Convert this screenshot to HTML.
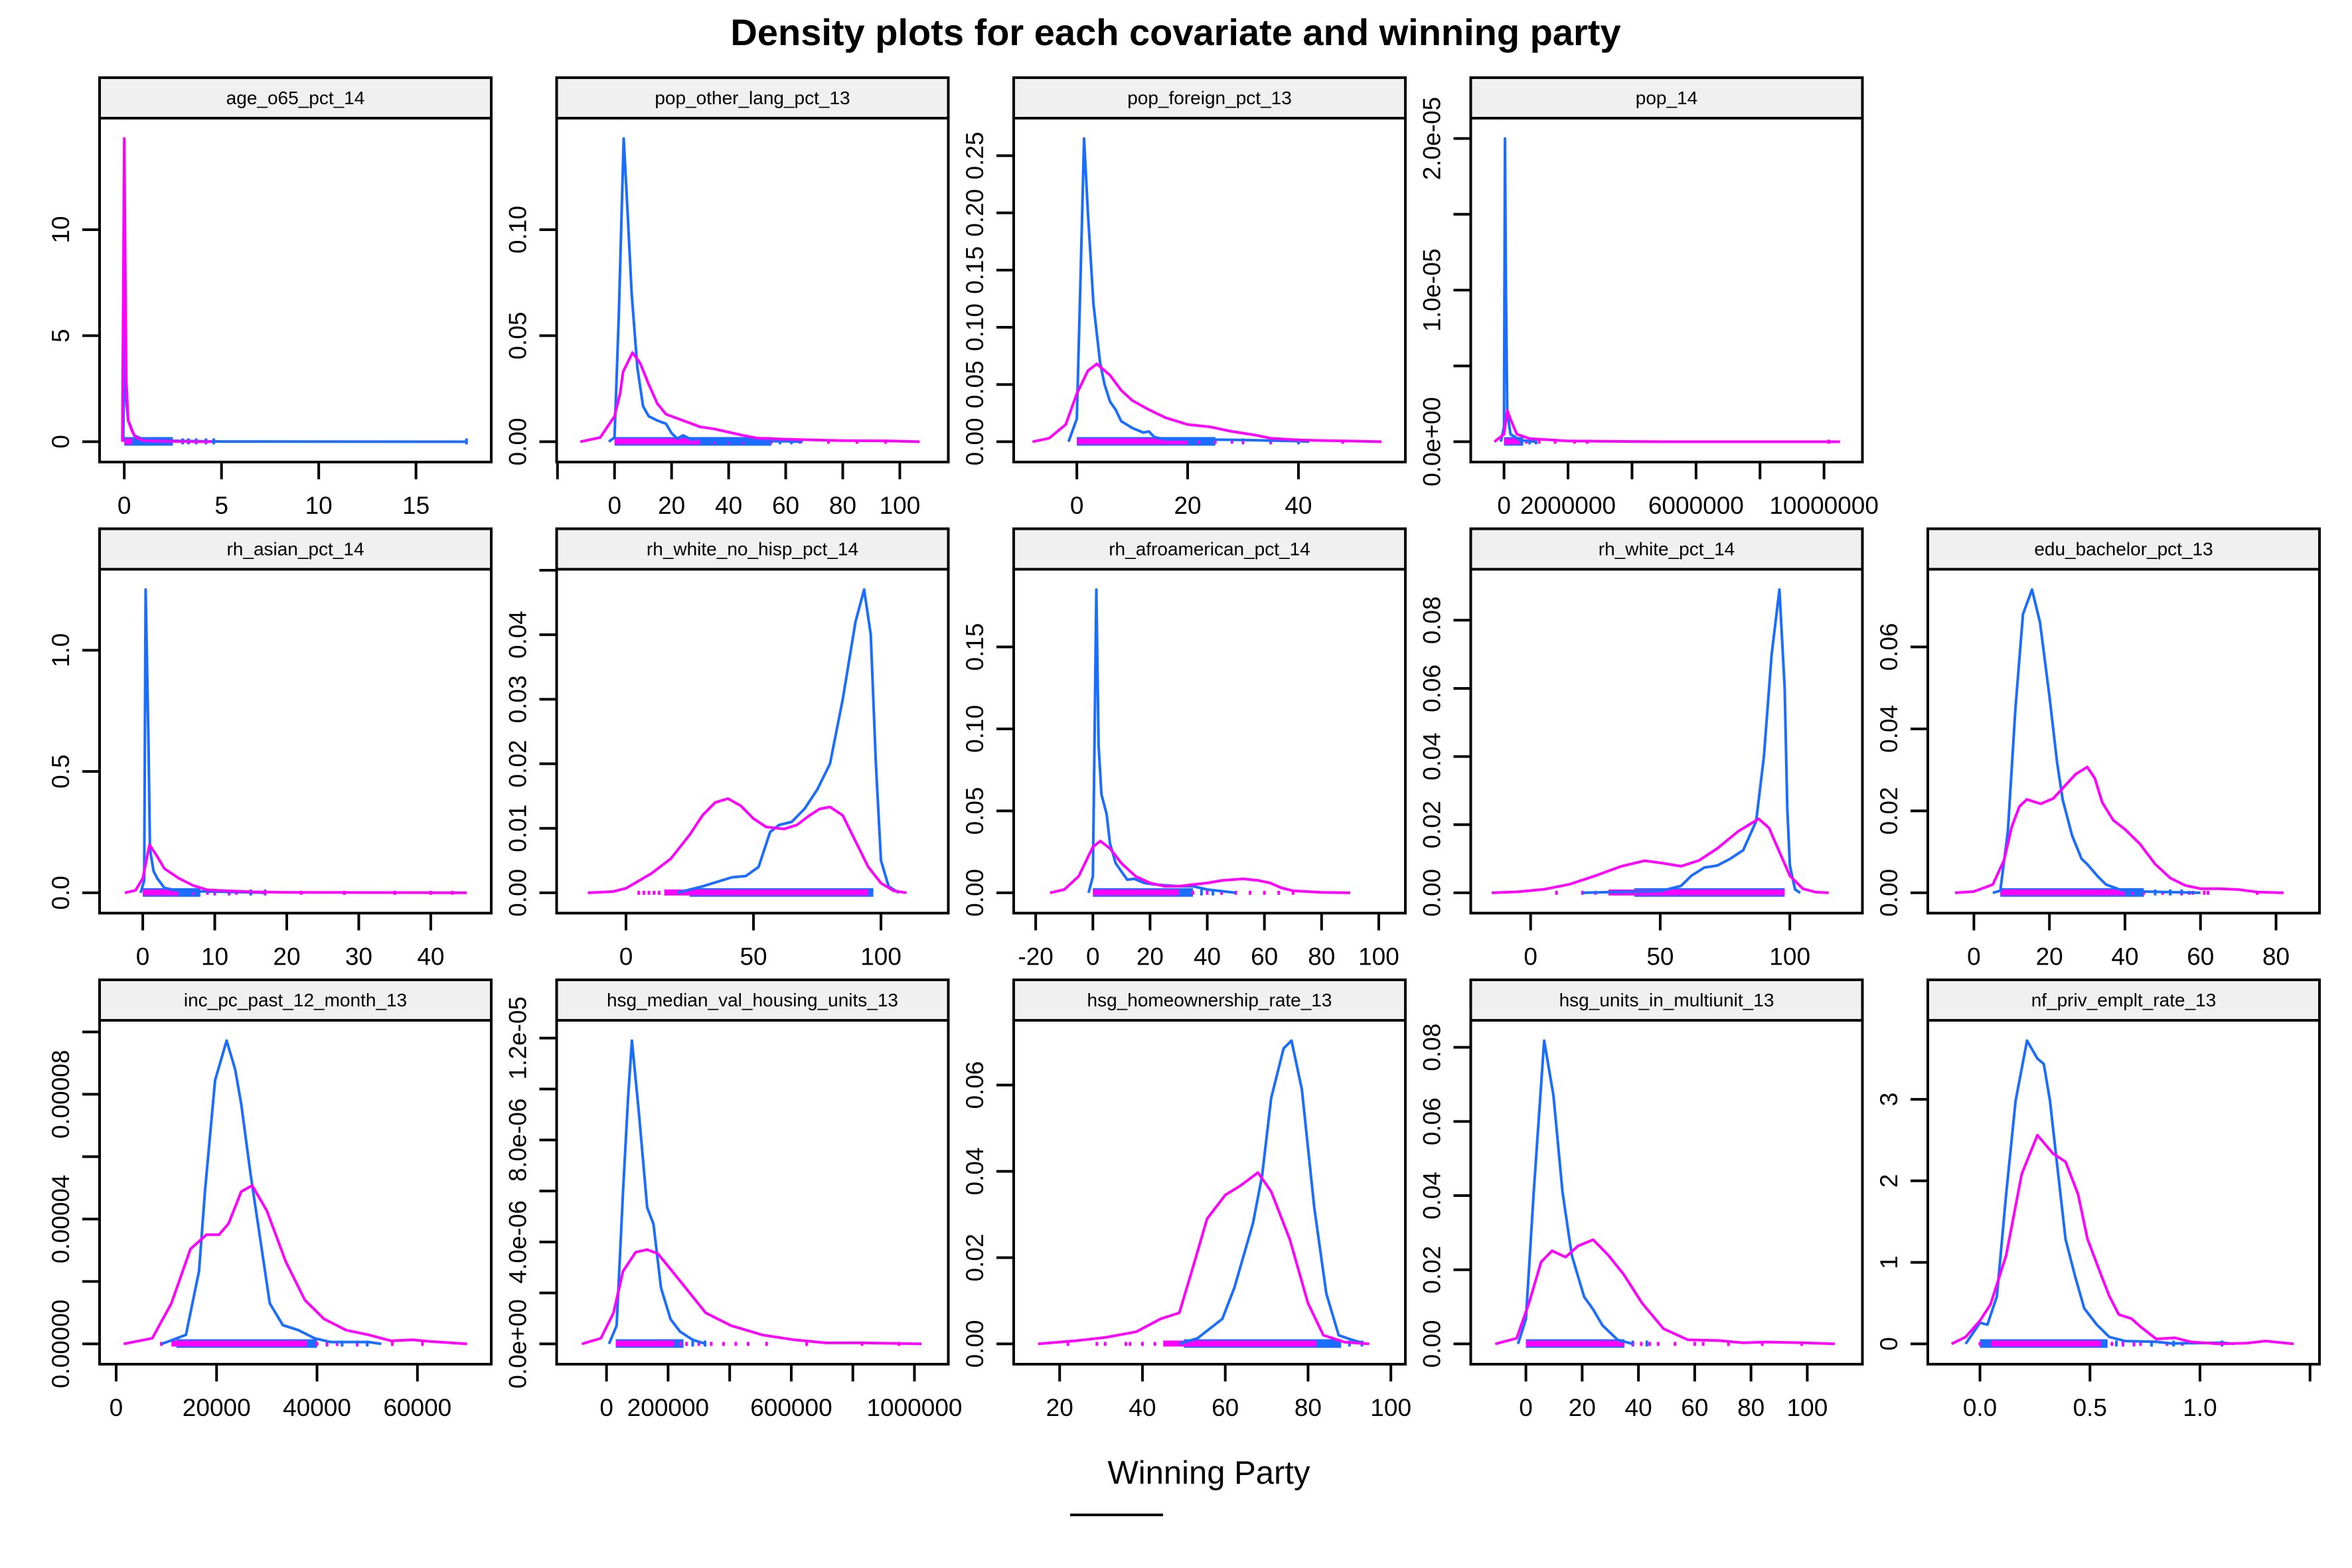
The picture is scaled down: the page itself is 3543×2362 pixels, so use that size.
<!DOCTYPE html>
<html><head><meta charset="utf-8"><style>
html,body{margin:0;padding:0;background:#fff;}
svg{display:block;font-family:"Liberation Sans",Arial,sans-serif;}
</style></head><body>
<svg id="chart" width="3543" height="2362" viewBox="0 0 3543 2362" xmlns="http://www.w3.org/2000/svg">
<rect width="3543" height="2362" fill="#fff"/>
<text x="1771" y="68" text-anchor="middle" font-size="56" font-weight="bold">Density plots for each covariate and winning party</text>
<text x="1821" y="2235" text-anchor="middle" font-size="49">Winning Party</text>
<line x1="1612" y1="2282" x2="1752" y2="2282" stroke="#000" stroke-width="4"/>
<g id="panels"></g>
</svg>
<script>
const panelNames = ["age_o65_pct_14","pop_other_lang_pct_13","pop_foreign_pct_13","pop_14","rh_asian_pct_14","rh_white_no_hisp_pct_14","rh_afroamerican_pct_14","rh_white_pct_14","edu_bachelor_pct_13","inc_pc_past_12_month_13","hsg_median_val_housing_units_13","hsg_homeownership_rate_13","hsg_units_in_multiunit_13","nf_priv_emplt_rate_13"];

const ageBlue = [[-0.05,0],[0.03,7],[0.1,2],[0.2,1],[0.3,0.8],[0.5,0.3],[1,0.1],[2,0.05],[5,0.01],[17.6,0]];
const ageMag = [[-0.1,0],[0,14.3],[0.1,3],[0.2,1],[0.4,0.5],[0.6,0.2],[1,0.05],[2,0.02],[4,0],[4.5,0]];
const langBlue = [[-2,0],[0,0.002],[1.5,0.06],[3.2,0.143],[4.5,0.11],[6,0.07],[8,0.035],[10,0.0167],[12,0.012],[15,0.01],[18,0.0085],[20,0.004],[22,0.0015],[24,0.003],[27,0.001],[30,0.0015],[35,0.0005],[45,0.0003],[60,0.0002],[66,0]];
const langMag = [[-12,0],[-5,0.002],[0,0.012],[2,0.023],[3,0.033],[6.3,0.042],[9,0.037],[12,0.027],[15,0.018],[18,0.013],[22,0.011],[26,0.009],[30,0.007],[35,0.006],[40,0.0045],[45,0.003],[50,0.0017],[60,0.0012],[70,0.0008],[80,0.0005],[95,0.0004],[107,0]];
const forBlue = [[-1.5,0],[0,0.02],[0.7,0.15],[1.3,0.265],[2,0.2],[3,0.12],[4.2,0.069],[5,0.05],[6,0.035],[7,0.028],[8,0.018],[10,0.012],[12,0.008],[13,0.009],[14,0.004],[16,0.002],[20,0.002],[30,0.0015],[40,0.0005],[42,0]];
const forMag = [[-8,0],[-5,0.003],[-2,0.015],[0,0.042],[2,0.062],[3.6,0.068],[6,0.058],[8,0.045],[10,0.036],[13,0.028],[16,0.021],[20,0.015],[24,0.013],[28,0.009],[32,0.006],[35,0.003],[40,0.0015],[45,0.001],[50,0.0005],[55,0]];
const popBlue = [[-100000,0],[0,1e-6],[30000,2e-5],[60000,1e-5],[100000,2e-6],[200000,5e-7],[500000,1e-7],[1000000,0]];
const popMag = [[-300000,0],[0,5e-7],[100000,2.06e-6],[200000,1.5e-6],[400000,5e-7],[800000,2e-7],[2000000,5e-8],[5000000,0],[10500000,0]];
const asianBlue = [[-0.3,0],[0.2,0.05],[0.4,1.25],[0.8,0.6],[1,0.18],[1.5,0.09],[2,0.06],[3,0.02],[5,0.008],[10,0.005],[15,0.002],[17,0]];
const asianMag = [[-2.5,0],[-1,0.01],[0,0.06],[0.93,0.198],[2,0.15],[3,0.1],[5,0.06],[7,0.03],[9,0.012],[12,0.008],[15,0.004],[20,0.002],[30,0.001],[40,0.0005],[45,0]];
const wnhBlue = [[20,0],[30,0.001],[41.5,0.0024],[47,0.0026],[52,0.004],[56.5,0.0094],[60,0.0105],[65,0.011],[70,0.013],[75,0.016],[80,0.02],[85,0.03],[90,0.042],[93.4,0.047],[96,0.04],[98,0.02],[100,0.005],[103,0.001],[107,0]];
const wnhMag = [[-15,0],[-5,0.0002],[0,0.0007],[10,0.003],[17.6,0.0053],[25,0.009],[30,0.012],[35,0.014],[40,0.0146],[45,0.0135],[50,0.0115],[55,0.0102],[62,0.0099],[67,0.0105],[72,0.012],[76,0.013],[80,0.0133],[85,0.012],[90,0.008],[95,0.004],[100,0.0015],[105,0.0003],[110,0]];
const afroBlue = [[-1.5,0],[0,0.01],[0.5,0.08],[1.2,0.185],[2,0.09],[3,0.06],[4.8,0.048],[6,0.03],[8,0.018],[12,0.008],[14.5,0.0085],[18,0.006],[22,0.005],[30,0.004],[35,0.004],[40,0.002],[45,0.001],[50,0]];
const afroMag = [[-15,0],[-10,0.002],[-5,0.01],[0,0.028],[2.6,0.0316],[6,0.027],[10,0.018],[15,0.01],[20,0.006],[25,0.004],[30,0.004],[35,0.005],[40,0.006],[45,0.0075],[52.6,0.0085],[58,0.0075],[62,0.006],[66,0.003],[70,0.0012],[80,0.0003],[90,0]];
const whiteBlue = [[20,0],[30,0.0002],[45,0.0004],[50,0.0005],[58,0.002],[62,0.005],[67,0.0074],[72,0.008],[77,0.01],[82,0.0125],[87,0.021],[90,0.04],[93,0.07],[96,0.089],[98,0.06],[99,0.025],[100,0.008],[102,0.001],[104,0]];
const whiteMag = [[-15,0],[-5,0.0003],[5,0.001],[15,0.0025],[25,0.005],[35,0.0078],[44,0.0094],[50,0.0088],[58,0.0078],[65,0.0095],[72,0.013],[80,0.018],[88,0.0217],[92,0.019],[96,0.012],[100,0.005],[105,0.0012],[110,0.0002],[115,0]];
const eduBlue = [[5,0],[7,0.0005],[9,0.015],[11,0.045],[13,0.068],[15.4,0.074],[17.5,0.066],[20,0.048],[22,0.032],[23.5,0.0228],[26,0.014],[28.5,0.0083],[30,0.007],[32.8,0.004],[35,0.002],[38.9,0.0007],[45,0.0003],[55,0.0001],[60,0]];
const eduMag = [[-5,0],[0,0.0003],[5,0.002],[8,0.008],[10,0.016],[12,0.021],[14,0.0228],[17.7,0.0217],[21,0.023],[24,0.026],[27,0.029],[30,0.0307],[32,0.028],[34,0.022],[36.9,0.0177],[40,0.0155],[44,0.0119],[48,0.007],[52,0.0036],[56,0.0018],[60,0.001],[65,0.001],[70,0.0008],[75,0.0002],[82,0]];
const incBlue = [[9100,0],[13900,2.9e-6],[16500,2.33e-5],[17700,4.9e-5],[19700,8.45e-5],[22000,9.72e-5],[23700,8.8e-5],[24900,7.7e-5],[26800,5.4e-5],[28700,3.35e-5],[30600,1.3e-5],[33200,6e-6],[36300,4.4e-6],[39500,1.8e-6],[42700,6e-7],[50300,6e-7],[52800,0]];
const incMag = [[1500,0],[7200,1.8e-6],[11000,1.3e-5],[14800,3.04e-5],[18000,3.5e-5],[20500,3.5e-5],[22400,3.86e-5],[24900,4.88e-5],[27100,5.08e-5],[30000,4.27e-5],[33800,2.63e-5],[37600,1.4e-5],[41400,8e-6],[45800,4.4e-6],[50300,2.9e-6],[54700,1e-6],[59100,1.3e-6],[62300,8e-7],[69900,0]];
const medBlue = [[8000,0],[33000,7.2e-7],[53600,5.97e-6],[70100,9.7e-6],[82500,1.19e-5],[105000,9.1e-6],[132000,5.35e-6],[152600,4.7e-6],[177000,2.2e-6],[208000,9.7e-7],[239000,4.8e-7],[280000,1.6e-7],[322000,0]];
const medMag = [[-80000,0],[-18500,2.2e-7],[22700,1.22e-6],[53600,2.85e-6],[94800,3.6e-6],[132000,3.7e-6],[167000,3.54e-6],[239000,2.47e-6],[322000,1.22e-6],[404000,7.2e-7],[507000,3.5e-7],[610000,1.6e-7],[713000,4e-8],[837000,4e-8],[1023000,0]];
const homeBlue = [[48.9,0],[53.3,0.0013],[59.3,0.0058],[62.2,0.013],[66.7,0.028],[68.9,0.039],[71.1,0.057],[74.1,0.0685],[76,0.0703],[78.5,0.059],[81.5,0.0316],[84.4,0.0117],[87.4,0.002],[90.4,0.001],[94,0]];
const homeMag = [[14.8,0],[23.7,0.0007],[31.1,0.0015],[38.5,0.0028],[44.4,0.0058],[48.9,0.0072],[51.9,0.0168],[55.6,0.029],[60,0.0345],[63.7,0.0367],[67.9,0.0397],[71.1,0.0353],[75.6,0.0242],[80,0.0094],[83.7,0.002],[88.9,0.0004],[94.8,0]];
const multiBlue = [[-2.8,0],[0,0.0067],[2.8,0.041],[6.5,0.0818],[9.8,0.067],[13,0.041],[16.3,0.0239],[20.7,0.0127],[23.9,0.0093],[27.2,0.005],[32.6,0.0011],[38,0]];
const multiMag = [[-10.9,0],[-3.3,0.0015],[1.1,0.011],[5.4,0.0221],[9.3,0.0251],[14.1,0.0234],[18.5,0.0264],[23.9,0.0281],[29.3,0.0239],[34.8,0.0187],[41.3,0.011],[48.9,0.0041],[57.6,0.0011],[68.5,0.0009],[77.2,0.0003],[84.8,0.0005],[98.9,0.0003],[109.8,0]];
const nfBlue = [[-0.065,0],[0,0.26],[0.034,0.235],[0.077,0.585],[0.119,1.835],[0.162,2.985],[0.214,3.72],[0.261,3.5],[0.29,3.435],[0.318,2.985],[0.347,2.285],[0.389,1.285],[0.432,0.835],[0.474,0.435],[0.531,0.235],[0.588,0.085],[0.659,0.035],[0.8,0.025],[0.872,0.005],[1.1,0.015],[1.156,0]];
const nfMag = [[-0.129,0],[-0.065,0.085],[0,0.285],[0.048,0.485],[0.119,1.085],[0.19,2.085],[0.261,2.56],[0.332,2.335],[0.389,2.235],[0.446,1.835],[0.489,1.285],[0.545,0.885],[0.588,0.585],[0.631,0.36],[0.688,0.31],[0.73,0.21],[0.801,0.06],[0.886,0.075],[0.957,0.025],[1.085,0],[1.213,0.01],[1.298,0.035],[1.426,0]];

const blueSeries = [ageBlue,langBlue,forBlue,popBlue,asianBlue,wnhBlue,afroBlue,whiteBlue,eduBlue,incBlue,medBlue,homeBlue,multiBlue,nfBlue];
const magSeries = [ageMag,langMag,forMag,popMag,asianMag,wnhMag,afroMag,whiteMag,eduMag,incMag,medMag,homeMag,multiMag,nfMag];

const blueRugRange = [[0,2.5],[0,55],[0,25],[0,600000],[0,8],[25,97],[0,35],[40,98],[7,45],[12000,40000],[30000,250000],[50,88],[0,35],[0,0.58]];
const magRugRange = [[0,0.4],[0,30],[0,20],[0,500000],[0,5],[15,95],[0,30],[30,98],[7,40],[11000,38000],[30000,220000],[45,82],[0,35],[0.05,0.55]];
const blueRugOut = [[3,3.3,3.7,4.2,4.6,17.6],[58,62],[30,35,40],[800000,1000000],[10,12,15,17],[],[38,42],[],[48,52,55],[42000,45000,48000,50000],[280000,320000],[90,93],[38,43],[0.62,0.65,0.7,0.78,0.88,1.1]];
const magRugOut = [[],[35,40,45,55,65,75,85,95],[22,25,28,30,35,48],[700000,1100000,1600000,2200000,2600000,10150000],[7,9,10,12,13,17,22,28,35,40,43],[5,7,9,11,13],[35,40,45,50,55,60,65,70],[10,20,25],[42,45,50,55,57,58,61,62,75],[9000,40000,42000,44000,48000,55000,61000],[240000,260000,300000,340000,380000,420000,460000,520000,650000,830000,950000],[22,29,31,36,37,40,43,48],[38,41,44,47,53,60,63,72,84,98],[0,0.6,0.65,0.7,0.73,0.85,0.92]];

const xTicks = [[0,5,10,15],[-20,0,20,40,60,80,100],[0,20,40],[0,2e6,4e6,6e6,8e6,1e7],[0,10,20,30,40],[0,50,100],[-20,0,20,40,60,80,100],[0,50,100],[0,20,40,60,80],[0,20000,40000,60000],[0,2e5,4e5,6e5,8e5,1e6],[20,40,60,80,100],[0,20,40,60,80,100],[0,0.5,1.0,1.5]];
const xTickLabels = [["0","5","10","15"],["","0","20","40","60","80","100"],["0","20","40"],["0","2000000","","6000000","","10000000"],["0","10","20","30","40"],["0","50","100"],["-20","0","20","40","60","80","100"],["0","50","100"],["0","20","40","60","80"],["0","20000","40000","60000"],["0","200000","","600000","","1000000"],["20","40","60","80","100"],["0","20","40","60","80","100"],["0.0","0.5","1.0",""]];
const yTicks = [[0,5,10],[0,0.05,0.10],[0,0.05,0.10,0.15,0.20,0.25],[0,5e-6,1e-5,1.5e-5,2e-5],[0,0.5,1.0],[0,0.01,0.02,0.03,0.04,0.05],[0,0.05,0.10,0.15],[0,0.02,0.04,0.06,0.08],[0,0.02,0.04,0.06],[0,2e-5,4e-5,6e-5,8e-5,1e-4],[0,2e-6,4e-6,6e-6,8e-6,1e-5,1.2e-5],[0,0.02,0.04,0.06],[0,0.02,0.04,0.06,0.08],[0,1,2,3]];
const yTickLabels = [["0","5","10"],["0.00","0.05","0.10"],["0.00","0.05","0.10","0.15","0.20","0.25"],["0.0e+00","","1.0e-05","","2.0e-05"],["0.0","0.5","1.0"],["0.00","0.01","0.02","0.03","0.04",""],["0.00","0.05","0.10","0.15"],["0.00","0.02","0.04","0.06","0.08"],["0.00","0.02","0.04","0.06"],["0.00000","","0.00004","","0.00008",""],["0.0e+00","","4.0e-06","","8.0e-06","","1.2e-05"],["0.00","0.02","0.04","0.06"],["0.00","0.02","0.04","0.06","0.08"],["0","1","2","3"]];
const xLimits = [[-1.27,18.87],[-20.3,117],[-11.4,59.3],[-1.04e6,11.2e6],[-6.0,48.4],[-27.2,126.4],[-27.7,109.3],[-23.1,128],[-12.2,91.5],[-3300,74700],[-162000,1.11e6],[8.9,103.5],[-19.6,119.6],[-0.237,1.543]];

const NS = "http://www.w3.org/2000/svg";
const root = document.getElementById('panels');
const BLUE = "#1a6dff", MAG = "#ff00ff";
function mk(tag, attrs, parent){ const e=document.createElementNS(NS,tag); for(const k in attrs) e.setAttribute(k,attrs[k]); parent.appendChild(e); return e; }
const cellPos = [[0,0],[1,0],[2,0],[3,0],[0,1],[1,1],[2,1],[3,1],[4,1],[0,2],[1,2],[2,2],[3,2],[4,2]];

panelNames.forEach((name,i)=>{
  const c=cellPos[i][0], r=cellPos[i][1];
  const L=150+688.5*c, W=590, ST=117+679.5*r, T=ST+61, H=518, B=T+H;
  const g=mk('g',{},root);
  
  
  const P=Math.max(...blueSeries[i].map(p=>p[1]),...magSeries[i].map(p=>p[1]));
  const y0=-0.067*P, y1=1.067*P;
  const [x0,x1]=xLimits[i];
  const sx=v=>L+(v-x0)/(x1-x0)*W;
  const sy=v=>B-(v-y0)/(y1-y0)*H;
  const strip=mk('rect',{x:L,y:ST,width:W,height:61,fill:'#f0f0f0',stroke:'#000','stroke-width':4},g);
  
  
  const st=mk('text',{x:L+W/2,y:ST+40,'text-anchor':'middle','font-size':28},g);
  
  
  st.textContent=name;
  const yz=sy(0);
  const br=mk('rect',{x:sx(blueRugRange[i][0]),y:yz-7,width:sx(blueRugRange[i][1])-sx(blueRugRange[i][0]),height:13,fill:BLUE},g);
  
  
  blueRugOut[i].forEach(v=>{ const d=mk('rect',{x:sx(v)-2,y:yz-5,width:4,height:9,fill:BLUE},g);
    
     });
  const mr=mk('rect',{x:sx(magRugRange[i][0]),y:yz-5,width:sx(magRugRange[i][1])-sx(magRugRange[i][0]),height:9,fill:MAG},g);
  
  
  magRugOut[i].forEach(v=>{ const d=mk('rect',{x:sx(v)-2,y:yz-3,width:4,height:6,fill:MAG},g);
    
     });
  const bl=mk('polyline',{points:blueSeries[i].map(p=>sx(p[0]).toFixed(1)+','+sy(p[1]).toFixed(1)).join(' '),fill:'none',stroke:BLUE,'stroke-width':4,'stroke-linejoin':'round'},g);
  
  
  const ml=mk('polyline',{points:magSeries[i].map(p=>sx(p[0]).toFixed(1)+','+sy(p[1]).toFixed(1)).join(' '),fill:'none',stroke:MAG,'stroke-width':4,'stroke-linejoin':'round'},g);
  
  
  const fr=mk('rect',{x:L,y:T,width:W,height:H,fill:'none',stroke:'#000','stroke-width':4},g);
  
  
  xTicks[i].forEach((v,k)=>{ const x=sx(v);
    const t=mk('line',{x1:x,y1:B,x2:x,y2:B+26,stroke:'#000','stroke-width':4},g);
    
    
    if(xTickLabels[i][k]){ const tl=mk('text',{x:x,y:B+78,'text-anchor':'middle','font-size':37},g);
      
      
      tl.textContent=xTickLabels[i][k]; } });
  yTicks[i].forEach((v,k)=>{ const y=sy(v);
    const t=mk('line',{x1:L-26,y1:y,x2:L,y2:y,stroke:'#000','stroke-width':4},g);
    
    
    if(yTickLabels[i][k]){ const tl=mk('text',{x:0,y:0,'text-anchor':'middle','font-size':37,transform:'translate('+(L-46)+','+y+') rotate(-90)'},g);
      
      
      tl.textContent=yTickLabels[i][k]; } });
});
</script>
</body></html>
